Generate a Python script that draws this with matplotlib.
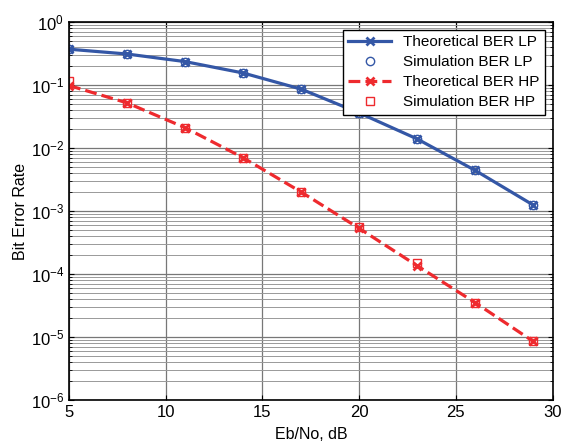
import numpy as np
import matplotlib.pyplot as plt

plt.rcParams['font.family'] = ['Liberation Sans', 'DejaVu Sans']

# Eb/No points (dB)
ebno = [5, 8, 11, 14, 17, 20, 23, 26, 29]

# low-priority stream
ber_lp_theory = [0.37, 0.31, 0.235, 0.155, 0.086, 0.036, 0.0139, 0.0044, 0.00124]
ber_lp_sim = [0.37, 0.31, 0.235, 0.155, 0.086, 0.036, 0.0139, 0.0044, 0.00124]

# high-priority stream
ber_hp_theory = [0.098, 0.052, 0.021, 0.0070, 0.0020, 5.3e-4, 1.35e-4, 3.5e-5, 8.5e-6]
ber_hp_sim = [0.117, 0.052, 0.021, 0.0070, 0.0020, 5.6e-4, 1.52e-4, 3.5e-5, 8.5e-6]

blue = '#3457a6'
red = '#ee2a2e'

fig = plt.figure(figsize=(5.63, 4.44), dpi=100)
ax = fig.add_axes([0.1226, 0.0991, 0.859, 0.8514])

ax.semilogy(ebno, ber_lp_theory, '-x', color=blue, lw=2.3, ms=6, mew=2,
            label='Theoretical BER LP')
ax.semilogy(ebno, ber_lp_sim, 'o', color=blue, mfc='none', ms=6, mew=1,
            label='Simulation BER LP')
ax.semilogy(ebno, ber_hp_theory, '--x', color=red, lw=2.3, ms=6, mew=2,
            label='Theoretical BER HP')
ax.semilogy(ebno, ber_hp_sim, 's', color=red, mfc='none', ms=6, mew=1,
            label='Simulation BER HP')

ax.set_xlim(5, 30)
ax.set_ylim(1e-6, 1)
ax.set_xticks([5, 10, 15, 20, 25, 30])

ax.grid(True, which='major', color='#777777', lw=0.9)
ax.grid(True, which='minor', axis='y', color='#999999', lw=0.7)
ax.tick_params(which='both', direction='in', top=True, right=True, labelsize=12)
for s in ax.spines.values():
    s.set_linewidth(1.2)

ax.set_xlabel('Eb/No, dB', fontsize=11.5, labelpad=5)
ax.set_ylabel('Bit Error Rate', fontsize=11.5, labelpad=2)

leg = ax.legend(loc='upper right', fontsize=11, fancybox=False,
                edgecolor='black', framealpha=1, borderaxespad=0.5,
                handlelength=2.8, labelspacing=0.4, borderpad=0.35)
leg.get_frame().set_linewidth(1.0)

fig.savefig('out.png', dpi=100)
